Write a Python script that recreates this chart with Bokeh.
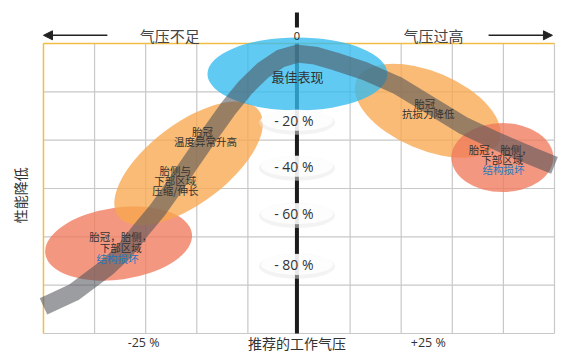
from bokeh.plotting import figure
from bokeh.models import Range1d, Arrow, NormalHead
from bokeh.core.properties import value
from bokeh.embed import file_html
from bokeh.resources import INLINE
import math

# ---- schematic data (grid units: x = pressure cells, 0 = recommended; y = performance cells) ----
band_x = [-5.0, -4.41, -3.75, -3.40, -3.10, -2.77, -2.52, -2.16, -1.73, -1.38, -1.05, -0.71, -0.36, -0.03,
          0.32, 0.71, 1.26, 1.93, 2.57, 3.22, 3.89, 4.53, 5.0]
band_y = [0.56, 0.85, 1.37, 1.72, 2.13, 2.55, 2.92, 3.48, 4.14, 4.66, 5.09, 5.44, 5.69, 5.79,
          5.75, 5.63, 5.44, 5.13, 4.72, 4.30, 3.97, 3.68, 3.48]

zone_x = [-3.53, -2.16, 2.52, 3.98, -0.03]
zone_y = [1.86, 3.52, 4.61, 3.64, 5.37]
zone_w = [148, 176, 155, 102, 180]
zone_h = [72, 80, 78, 69, 73]
zone_angle_deg = [8, 37, -23, 0, 0]
zone_color = ["#f07a5c", "#f7a84e", "#f7a84e", "#f07a5c", "#33bbf0"]

zone_text = ["胎冠，胎侧，", "下部区域", "结构损坏",
             "胎冠", "温度异常升高", "胎侧与", "下部区域", "压缩/伸长",
             "胎冠", "抗损力降低",
             "胎冠，胎侧，", "下部区域", "结构损坏"]
zone_text_x = [-3.49, -3.49, -3.55,
               -1.89, -1.83, -2.42, -2.42, -2.42,
               2.46, 2.53,
               3.94, 3.98, 4.00]
zone_text_y = [2.01, 1.78, 1.55,
               4.18, 3.97, 3.37, 3.17, 2.96,
               4.76, 4.55,
               3.81, 3.60, 3.39]
zone_text_color = ["#333333", "#333333", "#1a78c2",
                   "#333333", "#333333", "#333333", "#333333", "#333333",
                   "#333333", "#333333",
                   "#333333", "#333333", "#1a78c2"]

perf_labels = ["- 20 %", "- 40 %", "- 60 %", "- 80 %"]
perf_y = [4.41, 3.46, 2.48, 1.43]

bottom_labels = ["-25 %", "+25 %"]
bottom_x = [-3.04, 2.53]

grid_v = [-4, -3, -2, -1, 1, 2, 3, 4, 5]
grid_h = [0, 1, 2, 3, 4, 5]

CJK = value("Noto Sans CJK SC")
LAT = value("Open Sans")

p = figure(width=573, height=352, x_range=Range1d(-5.841, 5.372), y_range=Range1d(-0.393, 6.890),
           output_backend="svg", toolbar_location=None, min_border=0,
           x_axis_location=None, y_axis_location=None)
p.grid.visible = False
p.outline_line_color = None
p.background_fill_color = "white"
p.border_fill_color = "white"

# grid
p.segment(x0=grid_v, y0=[0] * len(grid_v), x1=grid_v, y1=[6] * len(grid_v), line_color="#c8c8c8", line_width=1.2)
p.segment(x0=[-5] * len(grid_h), y0=grid_h, x1=[5] * len(grid_h), y1=grid_h, line_color="#c8c8c8", line_width=1.2)
p.segment(x0=[-5, -5], y0=[0, 6], x1=[-5, 5], y1=[6, 6], line_color="#f2bc45", line_width=1.5)

# centre axis
p.segment(x0=[-0.04], y0=[0], x1=[-0.04], y1=[6], line_color="#1c1c1c", line_width=4)
p.segment(x0=[-0.04], y0=[6.33], x1=[-0.04], y1=[6.64], line_color="#1c1c1c", line_width=4)

# zones
p.ellipse(x=zone_x, y=zone_y, width=zone_w, height=zone_h, width_units="screen", height_units="screen",
          angle=[math.radians(a) for a in zone_angle_deg], fill_color=zone_color, fill_alpha=0.78, line_color=None)

# performance band
p.line(band_x, band_y, line_color="#4c5158", line_alpha=0.56, line_width=18, line_join="round", line_cap="butt")

# glows behind performance labels
p.ellipse(x=[-0.04] * len(perf_y), y=[yy - 0.04 for yy in perf_y], width=76, height=25, width_units="screen",
          height_units="screen", fill_color="#e8e8e8", fill_alpha=0.5, line_color=None)
p.ellipse(x=[-0.04] * len(perf_y), y=perf_y, width=72, height=21, width_units="screen",
          height_units="screen", fill_color="white", fill_alpha=0.82, line_color=None)

p.text(x=[-0.1] * len(perf_y), y=perf_y, text=perf_labels, text_align="center", text_baseline="middle",
       text_font=LAT, text_font_size="14px", text_color="#333333")

p.text(x=zone_text_x, y=zone_text_y, text=zone_text, text_color=zone_text_color, text_align="center",
       text_baseline="middle", text_font=CJK, text_font_size="10.5px")
p.text(x=[-0.03], y=[5.32], text=["最佳表现"], text_align="center", text_baseline="middle",
       text_font=CJK, text_font_size="13px", text_color="#333333")

# top labels and arrows
p.text(x=[-2.53, 2.63], y=[6.17, 6.17], text=["气压不足", "气压过高"], text_align="center", text_baseline="middle",
       text_font=CJK, text_font_size="15px", text_color="#444444")
p.text(x=[-0.04], y=[6.15], text=["0"], text_align="center", text_baseline="middle",
       text_font=LAT, text_font_size="11px", text_color="#222222")
p.add_layout(Arrow(end=NormalHead(size=9, fill_color="#222222", line_color="#222222"),
                   x_start=-3.75, y_start=6.17, x_end=-5.0, y_end=6.17, line_color="#222222", line_width=1.5))
p.add_layout(Arrow(end=NormalHead(size=9, fill_color="#222222", line_color="#222222"),
                   x_start=3.71, y_start=6.17, x_end=4.96, y_end=6.17, line_color="#222222", line_width=1.5))

# bottom labels
p.text(x=bottom_x, y=[-0.18, -0.18], text=bottom_labels, text_align="center", text_baseline="middle",
       text_font=LAT, text_font_size="12.5px", text_color="#333333")
p.text(x=[-0.04], y=[-0.20], text=["推荐的工作气压"], text_align="center", text_baseline="middle",
       text_font=CJK, text_font_size="14px", text_color="#333333")
p.text(x=[-5.45], y=[2.86], text=["性能降低"], angle=[math.pi / 2], text_align="center", text_baseline="middle",
       text_font=CJK, text_font_size="14px", text_color="#333333")

open("out.html", "w").write(file_html(p, INLINE))
